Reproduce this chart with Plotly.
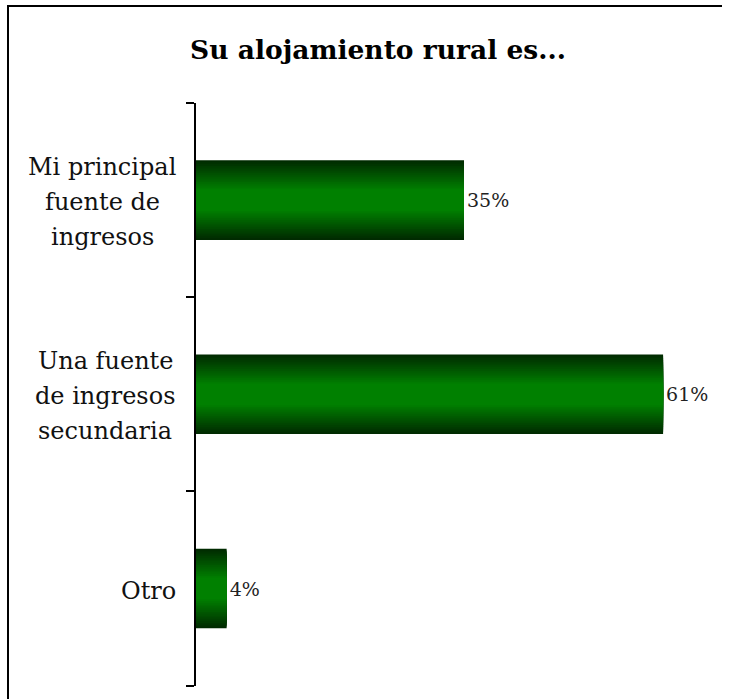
import plotly.graph_objects as go

categories = ["Mi principal<br>fuente de<br>ingresos",
              "Una fuente<br>de ingresos<br>secundaria",
              "Otro"]
values = [35, 61, 4]
value_labels = ["35%", "61%", "4%"]
title_text = "Su alojamiento rural es..."

SERIF = "DejaVu Serif"
BAR_W = 0.41
N_LAYERS = 22
dark = (0, 40, 0)
bright = (0, 128, 0)
PLOT_LEFT = 196
label_center_px = [102, 105, 148]   # horizontal centre of each label block
LINE_STEP = 35                       # pixel distance between label lines

fig = go.Figure()
for k in range(N_LAYERS):
    t = (k + 0.5) / N_LAYERS
    f = min(1.0, t / 0.75)
    c = tuple(round(d + (b - d) * f) for d, b in zip(dark, bright))
    kw = {}
    if k == 0:
        kw = dict(text=value_labels, textposition="outside",
                  textfont=dict(family=SERIF, size=19, color="#222222"),
                  cliponaxis=False)
    fig.add_trace(go.Bar(
        x=values, y=categories, orientation="h",
        width=BAR_W * (1 - k / N_LAYERS),
        marker=dict(color=f"rgb{c}", line=dict(width=0)),
        hoverinfo="skip", showlegend=False, **kw))

for cat, cx in zip(categories, label_center_px):
    lines = cat.split("<br>")
    n = len(lines)
    for j, line in enumerate(lines):
        fig.add_annotation(x=0, xref="paper", y=cat, yref="y",
                           text=line, showarrow=False, xanchor="center",
                           yanchor="middle", xshift=cx - PLOT_LEFT,
                           yshift=-(j - (n - 1) / 2) * LINE_STEP - 2,
                           font=dict(family=SERIF, size=24, color="#111111"))

# outer frame: left and top edges (the rest lies outside the picture)
frame = dict(type="line", xref="paper", yref="paper",
             xsizemode="pixel", ysizemode="pixel", xanchor=0, yanchor=1,
             line=dict(color="black", width=2), layer="above")
fig.add_shape(**frame, x0=-188, x1=-188, y0=97, y1=-700)
fig.add_shape(**frame, x0=-189, x1=526, y0=97, y1=97)

# category boundaries for the tick marks
boundaries = [i - 0.5 for i in range(len(categories) + 1)]

fig.update_layout(
    width=736, height=699,
    margin=dict(l=PLOT_LEFT, r=4, t=103, b=13),
    barmode="overlay",
    paper_bgcolor="white", plot_bgcolor="white",
    title=dict(text=f"<b>{title_text}</b>", x=378 / 736, xref="container",
               xanchor="center", y=1 - 50 / 699, yref="container",
               yanchor="middle",
               font=dict(family=SERIF, size=26.5, color="black")),
    xaxis=dict(range=[0, 70], visible=False),
    yaxis=dict(type="category", range=[2.502, -0.5], showline=True,
               linecolor="black", linewidth=2, ticks="outside", ticklen=8,
               tickwidth=2, tickcolor="black", tickmode="array",
               tickvals=boundaries,
               showgrid=False, showticklabels=False, zeroline=False),
)

fig.write_html("out.html",
               config={"displayModeBar": False},
               post_script="document.body.style.margin='0';"
                           "document.body.style.overflow='hidden';")
